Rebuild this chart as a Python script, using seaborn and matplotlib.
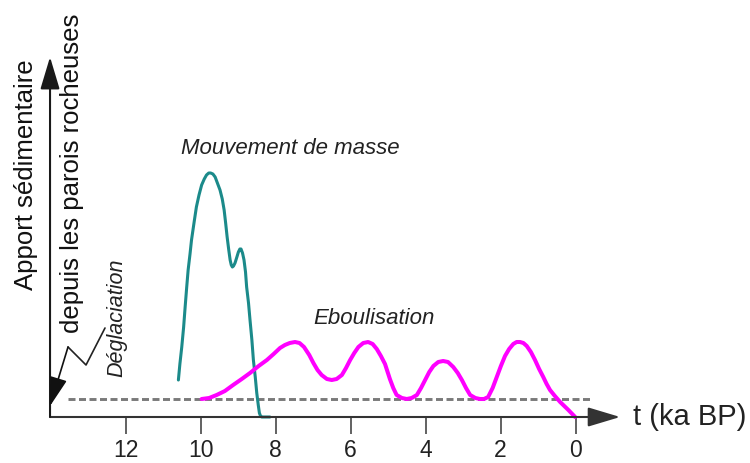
import seaborn as sns
import matplotlib.pyplot as plt
import pandas as pd

sns.set_style("white")
plt.rcParams['font.family'] = ['Liberation Sans', 'DejaVu Sans']

# time axis (ka BP)
tick_ages = [12, 10, 8, 6, 4, 2, 0]

# Mouvement de masse (teal)
masse_t = [10.59, 10.55, 10.50, 10.45, 10.41, 10.37, 10.33, 10.28, 10.24, 10.17, 10.11,
           10.04, 9.97, 9.90, 9.84, 9.78, 9.73, 9.67, 9.61, 9.55, 9.48, 9.42, 9.37,
           9.33, 9.29, 9.25, 9.21, 9.18, 9.15, 9.12, 9.08, 9.03, 8.99, 8.95, 8.92,
           8.88, 8.84, 8.80, 8.77, 8.72, 8.68, 8.63, 8.59, 8.54, 8.50, 8.46, 8.43,
           8.40, 8.37, 8.15]
masse_y = [37, 53, 70, 90, 110, 129, 147, 163, 177, 195, 210,
           222, 232, 238, 242, 244, 244, 243, 240, 234, 227, 218, 207,
           194, 180, 168, 157, 152, 150, 151, 154, 160, 165, 168, 168,
           164, 157, 145, 130, 114, 97, 77, 57, 40, 24, 12, 4,
           1, 0, 0]

# Eboulisation (magenta)
ebou_t = [9.97, 9.77, 9.57, 9.35, 9.13, 8.90, 8.68, 8.45, 8.23, 8.05, 7.88, 7.75,
          7.62, 7.48, 7.36, 7.24, 7.10, 6.99, 6.88, 6.77, 6.63, 6.50, 6.37, 6.23,
          6.12, 6.01, 5.90, 5.79, 5.66, 5.53, 5.41, 5.30, 5.19, 5.08, 4.95, 4.86,
          4.77, 4.63, 4.50, 4.37, 4.23, 4.12, 4.01, 3.90, 3.79, 3.66, 3.53, 3.40,
          3.26, 3.14, 3.03, 2.92, 2.81, 2.67, 2.55, 2.44, 2.33, 2.21, 2.10, 1.99,
          1.88, 1.77, 1.66, 1.57, 1.48, 1.39, 1.30, 1.19, 1.08, 0.97, 0.86, 0.77,
          0.68, 0.55, 0.41, 0.30, 0.19, 0.01]
ebou_y = [18, 19, 22, 26, 32, 38, 44, 51, 57, 63, 69, 72,
          74, 75, 74, 70, 62, 54, 47, 42, 38, 37, 38, 42,
          49, 57, 64, 70, 74, 75, 73, 68, 61, 53, 38, 29,
          22, 19, 18, 19, 22, 29, 37, 45, 51, 55, 56, 55,
          50, 44, 37, 29, 22, 19, 18, 18, 20, 29, 40, 51,
          61, 68, 73, 75, 75, 74, 71, 65, 57, 48, 40, 33,
          27, 21, 15, 11, 7, 0]

# dashed reference level
ref_t = [13.53, -0.47]
ref_y = [18, 18]

df_masse = pd.DataFrame({'t': masse_t, 'y': masse_y})
df_ebou = pd.DataFrame({'t': ebou_t, 'y': ebou_y})

fig = plt.figure(figsize=(7.5, 4.63), dpi=100)
ax = fig.add_axes([0, 0, 1, 1])
ax.set_xlim(15.347, -4.653)
ax.set_ylim(-46, 417)

ax.plot(ref_t, ref_y, color='#7a7a7a', lw=2.1, ls=(0, (2.4, 1.2)))
sns.lineplot(data=df_masse, x='t', y='y', sort=False, estimator=None, ax=ax,
             color='#1b8a8a', lw=2.2, solid_joinstyle='round', solid_capstyle='round')
sns.lineplot(data=df_ebou, x='t', y='y', sort=False, estimator=None, ax=ax,
             color='#ff00ff', lw=2.9, solid_joinstyle='round', solid_capstyle='round')

# axes drawn as arrows
x0 = 14.013
arr = dict(arrowstyle='-|>,head_length=1.0,head_width=0.3', color='#1a1a1a',
           lw=1.5, shrinkA=0, shrinkB=0, mutation_scale=20)
ax.annotate('', xy=(-1.19, 0), xytext=(x0, 0),
            arrowprops=dict(arr, color='#333'))
ax.annotate('', xy=(x0, 360), xytext=(x0, 0), arrowprops=arr)

# zigzag pointer to the deglaciation
ax.plot([12.547, 13.053, 13.533], [89, 52, 70], color='#222', lw=1.2)
ax.annotate('', xy=(x0, 11), xytext=(13.533, 70),
            arrowprops=dict(arrowstyle='-|>,head_length=1.0,head_width=0.3',
                            color='#111', lw=1.2, shrinkA=0, shrinkB=0,
                            mutation_scale=18))

for s in ax.spines.values():
    s.set_visible(False)
ax.spines['bottom'].set_position(('data', 0))
ax.set_xticks(tick_ages)
ax.set_xticklabels([str(a) for a in tick_ages])
ax.set_yticks([])
ax.tick_params(axis='x', direction='out', length=12, width=1.3, color='#555',
               labelsize=16.5, pad=4, labelcolor='#222', bottom=True)
ax.set_xlabel('')
ax.set_ylabel('')

ax.text(-1.52, 0, 't (ka BP)', fontsize=21, color='#222', ha='left', va='center')
ax.text(14.653, 242, 'Apport sédimentaire', fontsize=18.5, rotation=90,
        ha='center', va='center', color='#111')
ax.text(13.427, 244, 'depuis les parois rocheuses', fontsize=18.5, rotation=90,
        ha='center', va='center', color='#111')
ax.text(12.227, 99, 'Déglaciation', fontsize=15.5, rotation=90, style='italic',
        ha='center', va='center', color='#222')
ax.text(7.613, 268, 'Mouvement de masse', fontsize=16, style='italic',
        ha='center', va='center', color='#222')
ax.text(5.373, 99, 'Eboulisation', fontsize=16, style='italic',
        ha='center', va='center', color='#222')

fig.savefig('out.png', dpi=100)
